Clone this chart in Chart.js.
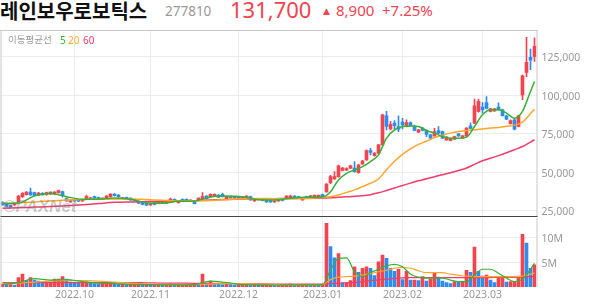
<!DOCTYPE html>
<html>
<head>
<meta charset="utf-8">
<script src="https://cdn.jsdelivr.net/npm/chart.js"></script>
<style>
  body { margin: 0; background: #fff; width: 594px; height: 304px; position: relative; overflow: hidden; font-family: 'Noto Sans', 'Noto Sans CJK KR', sans-serif; }
  .t { position: absolute; white-space: nowrap; line-height: 1; }
  canvas { position: absolute; left: 0; }
</style>
</head>
<body>
<div class="t" style="left:0;top:1px;font:bold 20px 'Noto Sans CJK KR';line-height:20px;color:#111">레인보우로보틱스</div>
<div class="t" style="left:165px;top:5px;font-size:13.5px;color:#999">277810</div>
<div class="t" style="left:230px;top:-2px;font-size:22px;color:#f2434f">131,700</div>
<div class="t" style="left:323px;top:7px;font:9px 'DejaVu Sans';line-height:1;color:#f2434f">▲</div>
<div class="t" style="left:336px;top:3px;font-size:15px;color:#f2434f">8,900</div>
<div class="t" style="left:382px;top:3px;font-size:15px;color:#f2434f">+7.25%</div>

<canvas id="price" width="594" height="187" style="top:30px"></canvas>
<canvas id="volume" width="594" height="87" style="top:217px"></canvas>

<div class="t" style="left:8px;top:35px;font:9.5px 'Noto Sans CJK KR';line-height:1;color:#999">이동평균선</div>
<div class="t" style="left:60px;top:35px;font-size:10px;color:#33b233">5</div>
<div class="t" style="left:68px;top:35px;font-size:10px;color:#ffa629">20</div>
<div class="t" style="left:83px;top:35px;font-size:10px;color:#f03c69">60</div>
<div class="t" style="left:3px;top:197px;font:italic bold 17px 'Liberation Sans';color:rgba(120,120,120,0.38)">©PAXNet</div>

<script>
// 데이터
const monthLabels = ['2022.10', '2022.11', '2022.12', '2023.01', '2023.02', '2023.03'];
const monthStart = [18, 37, 59, 80, 100, 120];
const priceTicks = [25000, 50000, 75000, 100000, 125000];
const volumeTicks = [5000000, 10000000];

const open = [
  30300, 29000, 28300, 28600, 30100, 34000, 35300, 36900, 36600, 34900,
  36200, 35300, 35700, 35800, 36600, 37300, 32800, 30600, 32200, 31800,
  31200, 32300, 32300, 34000, 33500, 32500, 33300, 34000, 35700, 35100,
  32800, 33500, 33000, 32000, 31000, 30300, 29700, 28600, 30300, 29700,
  31000, 29700, 30700, 32300, 30100, 32300, 32300, 31400, 31000, 31800,
  32500, 34400, 34000, 34600, 35100, 35500, 32500, 34000, 33300, 33800,
  33000, 33000, 34000, 31200, 32000, 32500, 31800, 31400, 30600, 31200,
  31900, 33300, 33400, 34400, 34000, 31800, 34000, 33300, 33600, 33800,
  35300, 37200, 43100, 45500, 47000, 51000, 51200, 52500, 52500, 49600,
  55300, 57900, 64000, 60700, 62300, 67700, 86600, 78100, 81800, 79600,
  82500, 79600, 82200, 79600, 75900, 78600, 77000, 74200, 73500, 77000,
  76300, 70900, 70500, 71400, 74800, 72000, 73500, 80000, 81800, 89400,
  92200, 95200, 89400, 89800, 92200, 90500, 86600, 81400, 84000, 79600,
  100200, 114800, 124600, 125200
];
const high = [
  30800, 29300, 28600, 29500, 34800, 36600, 37300, 39500, 37000, 36800,
  36600, 36900, 37200, 37300, 38200, 37700, 33200, 31800, 32500, 32100,
  32300, 35100, 33600, 34300, 33800, 33300, 34700, 36000, 36000, 35400,
  33600, 33800, 33300, 32300, 31300, 30600, 30000, 29600, 30600, 30800,
  31300, 30800, 33000, 32600, 31300, 32600, 32600, 32100, 31300, 33300,
  36600, 34700, 35800, 35800, 35400, 36300, 34300, 34300, 34100, 34100,
  33900, 34700, 34300, 32500, 32700, 32800, 32100, 31700, 31500, 32100,
  32200, 34700, 35100, 34700, 34300, 33200, 34300, 34900, 35200, 35200,
  35600, 42500, 47800, 50300, 54600, 53000, 52800, 54500, 56800, 55000,
  57600, 64500, 65500, 62700, 68100, 87600, 89400, 82900, 83500, 86600,
  85000, 84000, 82600, 80500, 77800, 79000, 77400, 74600, 78500, 79600,
  76700, 73000, 72100, 73400, 75200, 73800, 78900, 82000, 97400, 97500,
  95200, 99100, 91500, 91400, 95000, 90900, 87000, 83900, 84400, 87000,
  113000, 137600, 130000, 137200
];
const low = [
  28400, 27200, 26900, 28300, 29800, 33500, 35000, 34800, 34300, 34600,
  34900, 35000, 35400, 35500, 36300, 33600, 30900, 30300, 30900, 30700,
  30900, 32000, 32000, 32700, 32200, 32200, 33000, 33700, 34300, 33700,
  32500, 32700, 31500, 31200, 29400, 28700, 28100, 28300, 28700, 29400,
  29400, 29400, 30400, 30700, 29800, 30700, 31300, 31100, 29200, 31500,
  32200, 32400, 33700, 34300, 33300, 33700, 32200, 33000, 33000, 32900,
  32700, 32700, 31500, 30900, 31700, 31300, 30300, 30200, 30300, 30900,
  31200, 33000, 33100, 33000, 32800, 31500, 32700, 33000, 33300, 33500,
  33500, 36800, 42500, 45200, 46700, 50700, 50900, 52200, 50000, 49300,
  55000, 57500, 61200, 60400, 62000, 67400, 77400, 77400, 77400, 76300,
  78000, 79300, 79800, 76700, 75600, 76700, 73000, 71000, 73200, 75000,
  71700, 70600, 70200, 71100, 73200, 71700, 73200, 78000, 81500, 89000,
  88300, 91000, 89100, 89500, 90200, 86300, 84100, 81100, 77400, 79300,
  97000, 112000, 116500, 122000
];
const close = [
  28700, 27600, 27200, 29200, 34400, 36200, 36900, 35100, 34600, 36400,
  35200, 36600, 36900, 37000, 37900, 34900, 31200, 31500, 31200, 31000,
  32000, 34000, 33300, 33000, 32500, 33000, 34400, 35700, 34600, 34000,
  33300, 33000, 31800, 31500, 29700, 29000, 28400, 29300, 29000, 30500,
  29700, 30500, 32500, 31000, 31000, 31000, 31600, 31800, 29500, 33000,
  34000, 32700, 35500, 35500, 33600, 34000, 34000, 33300, 33800, 33200,
  33600, 34400, 31800, 32200, 32400, 31600, 30600, 30500, 31200, 31800,
  31500, 34400, 34400, 33300, 33100, 32900, 33000, 34600, 34900, 34900,
  33800, 42100, 47000, 47000, 54000, 52500, 52300, 54000, 50300, 54600,
  57200, 64000, 62700, 62300, 67700, 87200, 79600, 81100, 80200, 77900,
  80700, 82200, 80200, 77000, 77400, 77000, 74500, 72000, 76300, 75300,
  72000, 72700, 71800, 73100, 73500, 73500, 78600, 78300, 93100, 95900,
  90500, 91300, 91100, 91100, 90500, 86600, 84400, 83500, 77900, 86600,
  112600, 121300, 122800, 131700
];
const volume = [
  600000, 500000, 500000, 400000, 1900000, 2600000, 1300000, 1900000, 1400000, 1200000,
  1000000, 1000000, 1000000, 1600000, 1600000, 2100000, 1600000, 1000000, 900000, 800000,
  800000, 1000000, 800000, 700000, 600000, 600000, 800000, 800000, 700000, 600000,
  600000, 500000, 500000, 500000, 600000, 500000, 500000, 400000, 400000, 500000,
  400000, 400000, 600000, 400000, 400000, 400000, 400000, 400000, 600000, 500000,
  2600000, 800000, 1200000, 700000, 600000, 500000, 600000, 500000, 400000, 500000,
  500000, 600000, 400000, 500000, 400000, 400000, 400000, 400000, 300000, 300000,
  400000, 500000, 600000, 400000, 400000, 400000, 500000, 400000, 500000, 400000,
  500000, 12900000, 8200000, 5900000, 6800000, 900000, 900000, 1300000, 4100000, 3000000,
  3800000, 4100000, 3800000, 2300000, 5100000, 6500000, 5800000, 3800000, 3200000, 3600000,
  1500000, 3200000, 1400000, 1400000, 1300000, 2100000, 1200000, 1600000, 2900000, 2000000,
  1200000, 900000, 700000, 1100000, 1000000, 1000000, 3400000, 3000000, 8100000, 3200000,
  2200000, 2400000, 1400000, 900000, 2100000, 2100000, 1000000, 1100000, 1100000, 2100000,
  10700000, 8900000, 3800000, 4500000
];

// 이동평균선 (그림에서 읽은 지점)
const maIdx = [
  0, 4, 8, 12, 16, 20, 24, 28, 32, 36, 40, 44, 48, 52, 56, 60, 64, 68, 72, 76, 80,
  82, 84, 86, 88, 90, 92, 94, 96, 98, 100, 102, 104, 106, 108, 110, 112, 114, 116,
  118, 120, 122, 124, 126, 128, 130, 132, 133
];
const ma5 = [
  29500, 29800, 34500, 36000, 34000, 32300, 32300, 33200, 32300, 30100, 29700, 31000, 31200, 33800, 34400, 34000, 32000, 31800, 33000, 33600, 33800,
  37200, 44900, 49200, 51400, 53500, 56800, 61200, 72000, 77400, 79600, 80000, 79600, 77000, 75300, 73100, 72000, 72000, 72700,
  79600, 87200, 90500, 90500, 88300, 85000, 89400, 102400, 108900
];
const ma20 = [
  29700, 30000, 30600, 31200, 31800, 32200, 32300, 32500, 32500, 32100, 31600, 31200, 31300, 31500, 32000, 32600, 32800, 32700, 32600, 32800, 33500,
  34000, 35100, 36800, 38400, 40500, 42700, 45500, 51500, 57000, 61500, 65000, 68000, 70000, 72500, 74000, 75300, 76300, 77000,
  77500, 78000, 78600, 79000, 79800, 80500, 82500, 88000, 91000
];
const ma60 = [
  26400, 26800, 27200, 27600, 28100, 28700, 29500, 30300, 30600, 30800, 31000, 31200, 31400, 31800, 32200, 32500, 32600, 32700, 32800, 33000, 33100,
  33300, 33600, 33900, 34200, 34600, 35300, 36500, 38000, 39600, 41300, 42800, 44300, 45600, 47000, 48300, 49600, 51000, 52600,
  55000, 57300, 59000, 60700, 62500, 64500, 66600, 69500, 71000
];
const volMa5 = [
  500000, 900000, 1700000, 1400000, 1500000, 1100000, 800000, 700000, 550000, 500000, 450000, 450000, 500000, 1200000, 900000, 500000, 450000, 400000, 450000, 450000, 500000,
  3400000, 5800000, 5900000, 3100000, 2100000, 2900000, 3600000, 4300000, 4600000, 4100000, 2600000, 2000000, 1800000, 1800000, 1800000, 1400000, 1100000, 1100000,
  2400000, 3600000, 3600000, 2800000, 1800000, 1100000, 1600000, 3600000, 4800000
];
const volMa20 = [
  700000, 800000, 1000000, 1200000, 1300000, 1300000, 1200000, 1000000, 800000, 600000, 500000, 500000, 500000, 600000, 700000, 700000, 600000, 500000, 450000, 450000, 500000,
  1500000, 2000000, 2100000, 2200000, 2400000, 2700000, 3100000, 3400000, 3800000, 4000000, 3800000, 3300000, 2900000, 2900000, 2900000, 2600000, 2400000, 2200000,
  2100000, 2100000, 2100000, 2100000, 2100000, 2100000, 2200000, 2600000, 2800000
];
const volMa60 = [
  900000, 900000, 900000, 900000, 900000, 900000, 900000, 900000, 900000, 850000, 800000, 800000, 750000, 750000, 700000, 700000, 650000, 600000, 600000, 600000, 600000,
  700000, 750000, 850000, 950000, 1100000, 1300000, 1450000, 1600000, 1750000, 1850000, 1900000, 1900000, 1900000, 1900000, 1900000, 1900000, 1900000, 1900000,
  1900000, 1900000, 1900000, 1950000, 1950000, 1950000, 2000000, 2100000, 2100000
];

const UP = '#f2434f';
const DOWN = '#2e8cf0';
const GREEN = '#33b233';
const ORANGE = '#ffa629';
const PINK = '#f03c69';

const dayCount = close.length;
const labels = Array.from({ length: dayCount }, (_, i) => {
  const k = monthStart.indexOf(i);
  return k >= 0 ? monthLabels[k] : '';
});

function sparse(vals) {
  const out = new Array(dayCount).fill(null);
  maIdx.forEach((d, k) => { out[d] = vals[k]; });
  return out;
}

const candleColors = close.map((c, i) => c >= open[i] ? UP : DOWN);
const volColors = volume.map((v, i) => (i === 0 || v >= volume[i - 1]) ? UP : DOWN);

function maLine(vals, color, width) {
  return {
    type: 'line', data: sparse(vals), borderColor: color, borderWidth: width,
    pointRadius: 0, spanGaps: true, cubicInterpolationMode: 'monotone', order: 0
  };
}

// 축이 라벨 때문에 여백을 잡지 않도록
function noPad(s) {
  s.paddingTop = 0;
  s.paddingBottom = 0;
  s.paddingLeft = 0;
  s.paddingRight = 0;
}

// 테두리
const frame = {
  id: 'frame',
  afterDraw(chart, args, opts) {
    const { ctx, chartArea: a } = chart;
    ctx.save();
    ctx.lineWidth = 1;
    ctx.strokeStyle = '#c8c8c8';
    ctx.beginPath();
    ctx.moveTo(a.left + 0.5, a.top);
    ctx.lineTo(a.left + 0.5, a.bottom);
    ctx.moveTo(a.right + 0.5, a.top);
    ctx.lineTo(a.right + 0.5, a.bottom);
    if (opts.top) {
      ctx.moveTo(0, a.top + 0.5);
      ctx.lineTo(a.right + 1, a.top + 0.5);
    }
    ctx.stroke();
    if (opts.bottom) {
      ctx.strokeStyle = '#444';
      ctx.beginPath();
      ctx.moveTo(a.left, a.bottom - 0.5);
      ctx.lineTo(a.right + 1, a.bottom - 0.5);
      ctx.stroke();
    }
    ctx.restore();
  }
};

Chart.defaults.font.family = "'Noto Sans', sans-serif";
Chart.defaults.animation = false;

const monthGrid = c => monthStart.includes(c.index) ? '#ececec' : 'rgba(0,0,0,0)';
const tickFont = { size: 10.5 };

const priceChart = new Chart(document.getElementById('price'), {
  data: {
    labels: labels,
    datasets: [
      maLine(ma5, GREEN, 1.5),
      maLine(ma20, ORANGE, 1.5),
      maLine(ma60, PINK, 1.5),
      { type: 'bar', data: open.map((o, i) => [o, close[i]]), backgroundColor: candleColors,
        barThickness: 3, grouped: false, order: 1 },
      { type: 'bar', data: low.map((l, i) => [l, high[i]]), backgroundColor: candleColors,
        barThickness: 1, grouped: false, order: 2 }
    ]
  },
  options: {
    responsive: false,
    events: [],
    layout: { padding: { left: 0.5, top: 0, right: 0, bottom: 0 } },
    plugins: { legend: { display: false }, tooltip: { enabled: false }, frame: { top: true, bottom: true } },
    scales: {
      x: {
        offset: true,
        grid: { offset: false, color: monthGrid, drawTicks: false },
        ticks: { display: false, autoSkip: false },
        border: { display: false },
        afterFit: s => { s.height = 0; noPad(s); }
      },
      y: {
        position: 'right',
        min: 20770,
        max: 142360,
        afterBuildTicks: s => { s.ticks = priceTicks.map(v => ({ value: v })); },
        afterFit: s => { s.width = 57.5; noPad(s); },
        grid: { color: '#ececec', drawTicks: false },
        border: { display: false },
        ticks: { color: '#999', font: tickFont, padding: 5, labelOffset: 1.5,
          callback: v => v.toLocaleString('en-US') }
      }
    }
  },
  plugins: [frame]
});

const volumeChart = new Chart(document.getElementById('volume'), {
  data: {
    labels: labels,
    datasets: [
      maLine(volMa5, GREEN, 1.2),
      maLine(volMa20, ORANGE, 1.2),
      maLine(volMa60, PINK, 1.2),
      { type: 'bar', data: volume, backgroundColor: volColors, barThickness: 3, grouped: false, order: 1 }
    ]
  },
  options: {
    responsive: false,
    events: [],
    layout: { padding: { left: 0.5, top: 1, right: 0, bottom: 0 } },
    plugins: { legend: { display: false }, tooltip: { enabled: false }, frame: { top: false, bottom: false } },
    scales: {
      x: {
        offset: true,
        grid: { offset: false, color: monthGrid, drawTicks: false },
        ticks: { autoSkip: false, maxRotation: 0, color: '#999', font: tickFont, padding: 2 },
        border: { display: false },
        afterFit: s => { s.height = 17; noPad(s); }
      },
      y: {
        position: 'right',
        min: 0,
        max: 14000000,
        afterBuildTicks: s => { s.ticks = volumeTicks.map(v => ({ value: v })); },
        afterFit: s => { s.width = 57.5; noPad(s); },
        grid: { color: '#ececec', drawTicks: false },
        border: { display: false },
        ticks: { color: '#999', font: tickFont, padding: 5, labelOffset: 1.5,
          callback: v => (v / 1000000) + 'M' }
      }
    }
  },
  plugins: [frame]
});
</script>
</body>
</html>
